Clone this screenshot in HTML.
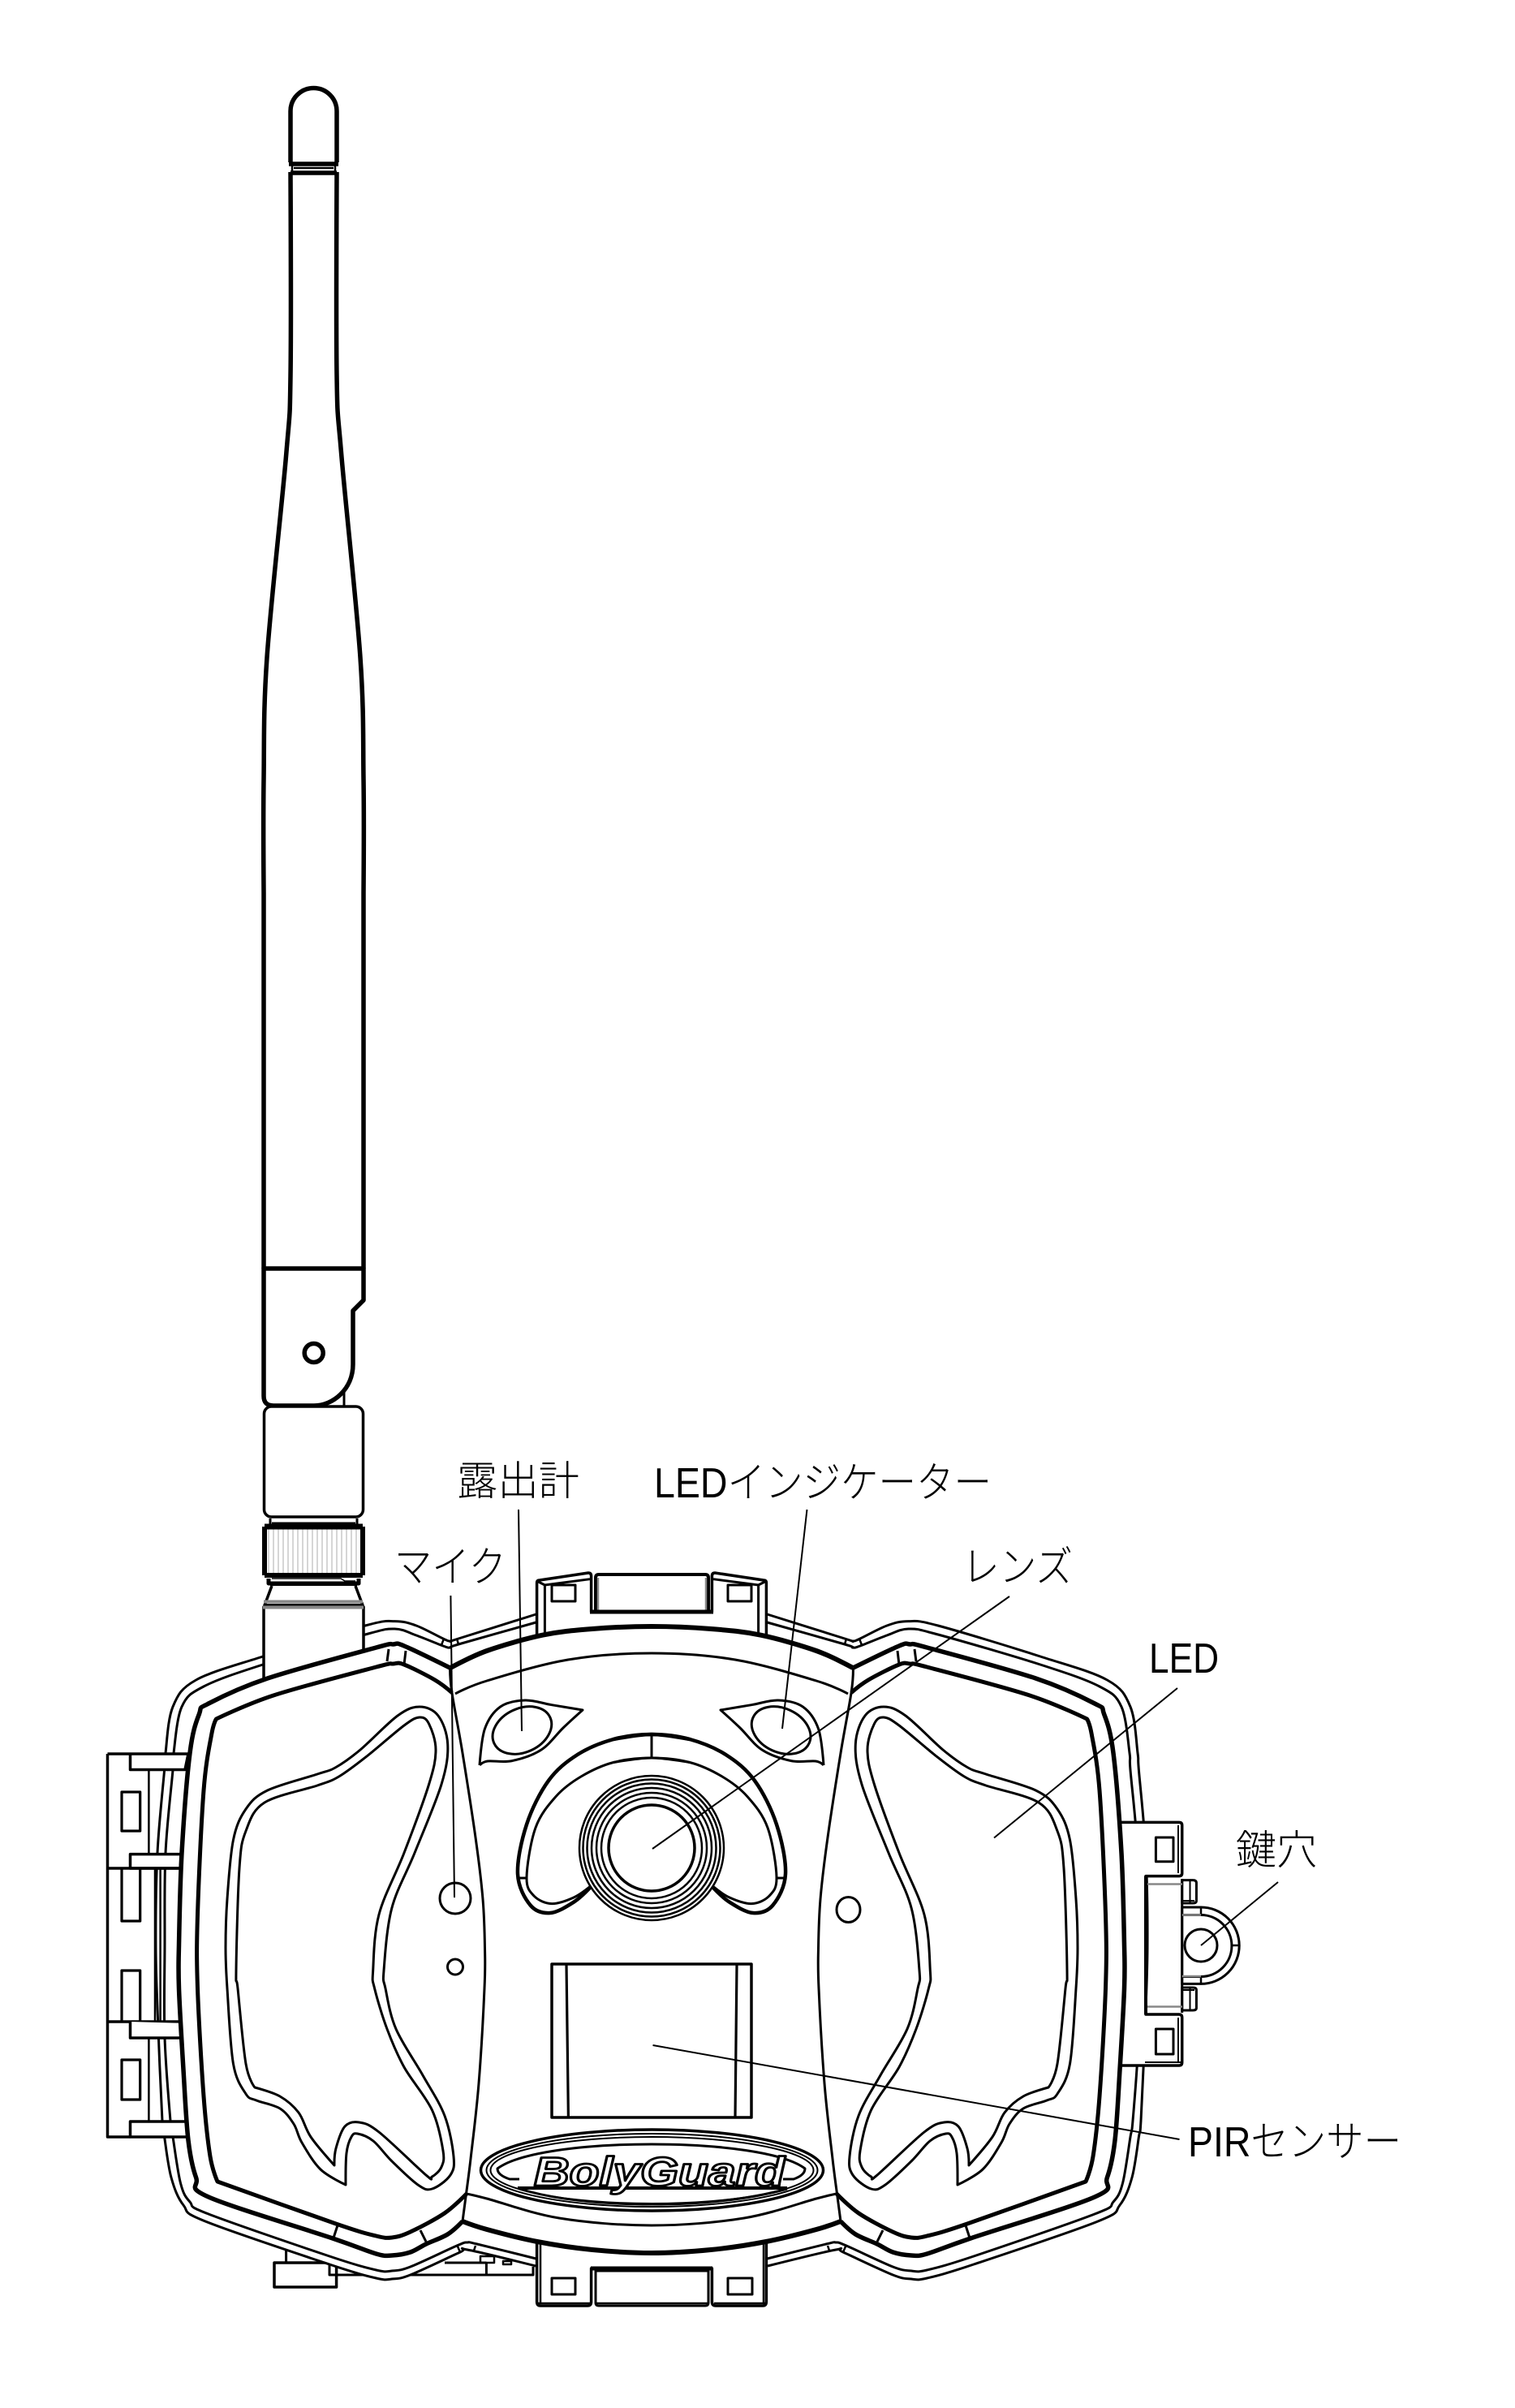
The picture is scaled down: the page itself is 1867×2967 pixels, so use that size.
<!DOCTYPE html>
<html><head><meta charset="utf-8"><style>
html,body{margin:0;padding:0;background:#fff}
svg{display:block}
.t{font-family:"Liberation Sans","Noto Sans CJK JP",sans-serif;font-weight:300;fill:#000}
</style></head><body>
<svg xmlns="http://www.w3.org/2000/svg" width="1867" height="2967" viewBox="0 0 1867 2967" fill="none" stroke="#000" stroke-width="3" stroke-linejoin="round" stroke-linecap="butt">
<defs>
<g id="hous">
<path class="s" fill="#fff" d="M660.6 1989 L565 2019 555 2022 546 2019 513 2003 486.5 1997.6 450 2003 324 2041 241.6 2070 213 2103 204 2160 202.6 2181 194 2283 192 2400 195 2500 200 2613 202.6 2633 211 2683 226 2717 253 2737 406 2790 463.6 2807 483 2808 505.7 2803 567 2775 576 2772 660 2792"/>
<path class="s" d="M660.6 1999 L565 2026 555 2030 546 2028 513 2015 486.5 2007 450 2014 324 2051 251 2078 224 2103 214 2160 213 2181 204 2283 203 2400 203 2511 210 2613 213 2633 222.5 2690 234 2713 257 2728 406 2780 463.6 2797 483 2798 505.7 2793 563 2767 576 2763 588 2765 660.6 2783"/>
<path d="M547 2019L544 2027M563 2019L565 2026M564 2768L567 2775M586 2767L584 2773" stroke-width="2.5"/>
</g>
<g id="rim">
<path class="s" fill="#fff" stroke-width="5.5" d="M554.6 2055 L498 2028 484.6 2026 463.6 2030 329.6 2068 257 2099 245.4 2112 234 2160 224 2283 220.5 2397 220.5 2450 226 2550 232 2637 241.6 2683 257 2707 410 2758 463.6 2777 483 2779 505.7 2775 525 2765 551.6 2753 570 2737"/>
<path class="s" stroke-width="5" d="M557 2085.6 L536 2070 498 2051 484.6 2050 463.6 2054 337 2089 266.5 2118 266.5 2118 260.7 2137 251 2206 243.5 2359 243.5 2450 251 2583 259 2657 268 2688 268 2688 414 2740 463.6 2755 483 2757 505.7 2750 547.8 2727 575 2703"/>
<path d="M479 2032L477 2047M500 2034L498 2051M415.7 2743L410.8 2758M518 2748L525 2762"/>
<path class="s" d="M554.6 2055 L557 2086 570 2160 586 2264 595 2340 597.5 2400 597 2450 590 2567 580 2660 574.5 2703 570 2737"/>
<path class="s" d="M517 2103 L540 2114 551.7 2149 544 2198.5 511 2283 482.7 2351.6 473 2428 475 2450 488 2500 521 2557 548 2607 559 2657 555 2680 532.5 2697 515 2692 483 2663 460 2638 440.6 2629 433 2633 427 2653 426 2692 426 2692 395 2673 372 2640 362 2617 345 2598 316 2588 303 2580 287.5 2543 280 2450 278 2400 280 2340 287.5 2267 303 2229 329.6 2206 391 2186 414 2177.5 444 2156 490 2114 517 2103"/>
<path class="s" d="M517 2116 L528.6 2124 537 2156 528.6 2198.5 498 2283 467 2359 459.7 2428 461.6 2450 477 2500 498 2547 532.5 2600 546 2650 544 2670 532.5 2682 525 2680 467 2627 442.5 2615 425 2620 414 2647 412 2668 412 2668 383 2633 368 2603 345 2583 314 2572 314 2572 303 2543 293 2450 291 2428 295 2302 303 2256 326 2221 391 2200 417.6 2189 452 2164 498 2126 517 2116"/>
<path class="s" d="M591 2175 L591 2175 597.5 2130 616.6 2103 647 2095 680 2100.7 718 2107 718 2107 694 2129 667 2156 631 2169.6 601 2170 591 2175"/>
<ellipse cx="643.4" cy="2132" rx="38" ry="27" transform="rotate(-25 643.4 2132)"/>
<path class="s" stroke-width="4.5" d="M850 2143 L803 2137 756 2143 711.6 2162 676 2194 649 2248 638 2309 653.6 2347.5 678 2357 707 2343.7 727 2326"/>
<path class="s" d="M850 2171.5 L803 2166 756 2171.5 716 2189 685 2213.6 660 2252 649 2313 658 2336 680 2345.6 707 2338 727 2324.6"/>
<path d="M640 2314H650"/>
</g>
</defs>

<!-- lower-left hidden parts -->
<rect x="338" y="2788" width="76.6" height="30" stroke-width="3.5"/>
<path d="M352.6 2772V2788M406 2790V2803H657V2793M599.4 2788V2803M548 2788H599.4" />
<path d="M592 2780H609V2788H592ZM620 2786H630V2790H620Z" stroke-width="2.5"/>

<!-- housing -->
<use href="#hous"/>
<use href="#hous" transform="matrix(-1 0 0 1 1606 0)"/>

<!-- antenna -->
<path d="M325 1980H448V2085H325Z" fill="#fff" stroke-width="3.5"/>
<path d="M335 1954L326 1978H447L438 1954" fill="#fff" stroke-width="3.5"/>
<path d="M325 1973.5H447M324 1980.5H448" stroke="#888" stroke-width="4"/>
<path d="M325 1977H447" stroke-width="2"/>
<path d="M424 1712V1735" stroke-width="3"/>
<path class="s" stroke-width="5.5" fill="#fff" d="M358 212 L358 463 352.7 560 329 810 325 960 325 1100"/>
<path class="s" stroke-width="5.5" fill="#fff" d="M415 212 L415 463 420.7 560 444 810 448 960 448 1100"/>
<path d="M358 213H415M325 1100V1563M448 1100V1563" stroke-width="5.5"/>
<path d="M358 200V137A28.5 28.5 0 0 1 415 137V200M356 202H417" stroke-width="5.5" fill="#fff"/>
<path d="M362 207H411M360 204V212M413 204V212" stroke-width="2.5"/>
<path d="M325 1563V1720Q325 1732 337 1732H387C410 1732 435 1712 435 1681V1615L448 1602V1563Z" fill="#fff" stroke-width="5.5"/>
<path d="M325 1563H448" stroke-width="5"/>
<circle cx="386.7" cy="1667" r="11.5" stroke-width="5.5"/>
<rect x="325.5" y="1733" width="122" height="136" rx="9" fill="#fff" stroke-width="3.5"/>
<path d="M335 1869H438M333 1871V1878M440 1871V1878M335 1877H438" stroke-width="3"/>
<path d="M327 1880H446V1944H327Z" fill="#fff" stroke-width="0"/>
<path d="M331 1884V1938M337 1884V1938M343 1884V1938M349 1884V1938M355 1884V1938M361 1884V1938M367 1884V1938M373 1884V1938M379 1884V1938M385 1884V1938M391 1884V1938M397 1884V1938M403 1884V1938M409 1884V1938M415 1884V1938M421 1884V1938M427 1884V1938M433 1884V1938M439 1884V1938" stroke="#bbb" stroke-width="1.2"/>
<path d="M326 1881H447" stroke-width="7"/>
<path d="M326 1941H447" stroke-width="6"/>
<path d="M326 1881V1941M447 1881V1941" stroke-width="6"/>
<path d="M331 1945V1951H442V1945" stroke-width="5"/>
<path d="M333 1952H440" stroke-width="4"/>
<path d="M335 1945H420L425 1948H438" stroke-width="1.5" stroke="#000"/>

<!-- top clip -->
<path d="M661.6 2022V1950Q661.6 1947 665 1947L725 1938Q728.6 1938 728.6 1942V1986H877.4V1942Q877.4 1938 881 1938L941 1947Q944.4 1947 944.4 1950V2022Z" fill="#fff" stroke-width="3.5"/>
<path d="M671.4 1953V2015M934.6 1953V2015M671.4 1953L727 1945.7M934.6 1953L879 1945.7M661.6 1948L671.4 1953M944.4 1948L934.6 1953"/>
<rect x="680" y="1953" width="29" height="20"/>
<rect x="897" y="1953" width="29" height="20"/>
<path d="M734 1986V1944Q734 1940 738 1940H869Q873 1940 873 1944V1986" fill="#fff" stroke-width="4"/>
<path d="M737 1944V1984M870 1944V1984" stroke="#888" stroke-width="2.5"/>
<path d="M727 1986H879" stroke-width="5"/>

<!-- bottom clip -->
<path d="M661.6 2745V2836Q661.6 2841 666 2841H724Q728.6 2841 728.6 2836V2795H877.4V2836Q877.4 2841 882 2841H940Q944.4 2841 944.4 2836V2745Z" fill="#fff" stroke-width="3.5"/>
<path d="M666 2745V2837M941 2745V2837M663 2838H727M880 2838H943" stroke-width="2.5"/>
<rect x="680" y="2807" width="29" height="20"/>
<rect x="897" y="2807" width="30" height="20"/>
<path d="M734 2798H873V2837Q873 2841 869 2841H738Q734 2841 734 2837Z" fill="#fff" stroke-width="3"/>
<path d="M735 2838H872" stroke-width="2.5"/>
<path d="M728 2795H878" stroke-width="5"/>

<!-- left clips -->
<rect x="132.5" y="2161" width="51" height="472" fill="#fff" stroke-width="0"/>
<path d="M183.4 2180V2284M183.4 2511V2614M197.6 2302V2491M191 2302V2491" stroke-width="2.5"/>
<path d="M132.5 2161V2633H160.5" stroke-width="3.5"/>
<path d="M132.5 2161H232L228 2180.5H160.5V2161" fill="#fff" stroke-width="3.5"/>
<path d="M160.5 2302V2284.6H224L222 2302Z" fill="#fff" stroke-width="3.5"/>
<path d="M132.5 2302H222.5M132.5 2491H222.5" stroke-width="3.5"/>
<path d="M160.5 2491V2511H224L222 2492.7" fill="#fff" stroke-width="3.5"/>
<path d="M160.5 2633V2614H232L234 2633Z" fill="#fff" stroke-width="3.5"/>
<rect x="150" y="2208" width="22.7" height="48" stroke-width="3.2"/>
<path d="M150 2302V2367H172.7V2302M150 2491V2428H172.7V2491" stroke-width="3.2"/>
<rect x="150" y="2538" width="22.7" height="49" stroke-width="3.2"/>

<!-- right lock -->
<path d="M1380 2245.4H1453Q1456.7 2245.4 1456.7 2249V2308Q1456.7 2311.6 1453 2311.6H1412V2482H1453Q1456.7 2482 1456.7 2486V2541Q1456.7 2545 1453 2545H1380Z" fill="#fff" stroke-width="3.5"/>
<path d="M1411 2541H1455M1452 2249V2308M1452 2486V2541" stroke-width="2"/>
<rect x="1424.4" y="2264" width="21.6" height="29.7" stroke-width="3"/>
<rect x="1424.4" y="2500" width="21.6" height="31" stroke-width="3"/>
<path d="M1456.7 2316.6H1470Q1474.4 2316.6 1474.4 2320V2342Q1474.4 2345 1470 2345H1456.7Z" fill="#fff"/>
<path d="M1456.7 2449H1470Q1474.4 2449 1474.4 2452V2474Q1474.4 2477 1470 2477H1456.7Z" fill="#fff"/>
<path d="M1466.5 2318V2344M1466.5 2450V2476" stroke-width="2"/>
<path d="M1456.7 2342H1472M1456.7 2452H1472" stroke-width="2"/>
<path d="M1456.7 2350H1480A47 47 0 0 1 1480 2444.4H1456.7Z" fill="#fff"/>
<path d="M1456.7 2359.5H1480A38 38 0 0 1 1480 2435.5H1456.7" />
<path d="M1480 2350V2359.5M1517.7 2397H1527.5M1480 2435.5V2444.4" stroke-width="2.5"/>
<circle cx="1480" cy="2397" r="20"/>
<path d="M1456.7 2315V2480" stroke-width="3"/>
<path d="M1414 2321.5H1457M1414 2472.5H1457M1456.7 2359.5H1480M1456.7 2435H1480" stroke="#888" stroke-width="2.5"/>
<path d="M1412 2311.6V2482" stroke-width="4"/>

<!-- center arcs fill and rim -->
<path class="s" fill="#fff" stroke-width="6" d="M555 2055 L600 2034 669 2014.6 730 2007 803 2004 876 2007 937 2014.6 1006 2034 1051 2055"/>
<path class="s" fill="#fff" stroke-width="6" d="M570 2737 L600 2747 662 2762 730 2772 803 2776 876 2772 944 2762 1006 2747 1036 2737"/>
<rect x="596" y="2050" width="414" height="690" fill="#fff" stroke="none"/>
<path class="s" d="M561 2087 L600 2071 700 2045 803 2037 906 2045 1006 2071 1045 2087"/>
<path class="s" d="M574.5 2703 L600 2709 689 2733 803 2742 917 2733 1006 2709 1031 2703"/>

<use href="#rim"/>
<use href="#rim" transform="matrix(-1 0 0 1 1606 0)"/>
<path d="M803 2137V2166"/>
<circle cx="561" cy="2339" r="19"/>
<circle cx="561" cy="2423.5" r="9.5"/>
<ellipse cx="1045.5" cy="2353" rx="14.5" ry="15.5"/>

<!-- lens -->
<circle cx="803" cy="2277" r="89" fill="#fff" stroke-width="2.5"/>
<circle cx="803" cy="2277" r="84.5" stroke-width="2.5"/>
<circle cx="803" cy="2277" r="79.5" stroke-width="2.5"/>
<circle cx="803" cy="2277" r="74" stroke-width="2.5"/>
<circle cx="803" cy="2277" r="68" stroke-width="2.5"/>
<circle cx="803" cy="2277" r="62" stroke-width="2.5"/>
<circle cx="803" cy="2277" r="53" stroke-width="3.5"/>

<!-- PIR -->
<path d="M680 2420H926V2609H680Z" stroke-width="3.5"/>
<path d="M698 2420L700.4 2609M908 2420L906 2609" stroke-width="3.2"/>

<!-- logo -->
<ellipse cx="803.5" cy="2674" rx="211" ry="50" fill="#fff" stroke-width="3.5"/>
<ellipse cx="803.5" cy="2674" rx="204" ry="45" stroke-width="2"/>
<ellipse cx="803.5" cy="2674" rx="199" ry="41" stroke-width="2"/>
<path d="M640 2685H628Q613 2680 613 2672C640 2652 720 2642 803 2642C886 2642 966 2652 992 2672Q992 2680 978 2685H965" stroke-width="3"/>
<path d="M638 2696H970" stroke-width="4"/>
<path d="M640 2697C690 2712 750 2716 803 2716C856 2716 916 2712 970 2697" stroke-width="3"/>
<text x="658" y="2693" textLength="309" lengthAdjust="spacingAndGlyphs" font-family="'Liberation Sans',sans-serif" font-style="italic" font-weight="bold" font-size="50" fill="#fff" stroke="#000" stroke-width="2.8">BolyGuard</text>

<!-- leaders -->
<g stroke-width="2">
<path d="M555.4 1966L560 2338"/>
<path d="M639 1860L643 2133"/>
<path d="M994.5 1860L964 2130"/>
<path d="M1244 1967L804 2278"/>
<path d="M1451 2080L1225 2264.5"/>
<path d="M1575 2319L1480 2397"/>
<path d="M804.5 2520L1453.5 2636"/>
</g>

<!-- labels -->
<g class="t" stroke="none" font-size="52">
<text class="t" x="563" y="1842" font-size="50" textLength="151" lengthAdjust="spacingAndGlyphs">露出計</text>
<text class="t" x="806" y="1845" textLength="416" lengthAdjust="spacingAndGlyphs">LEDインジケーター</text>
<text class="t" x="486" y="1949" textLength="138" lengthAdjust="spacingAndGlyphs">マイク</text>
<text class="t" x="1186" y="1949" textLength="136" lengthAdjust="spacingAndGlyphs">レンズ</text>
<text class="t" x="1416" y="2061" textLength="86" lengthAdjust="spacingAndGlyphs">LED</text>
<text class="t" x="1523" y="2297" font-size="50" textLength="100" lengthAdjust="spacingAndGlyphs">鍵穴</text>
<text class="t" x="1464" y="2657" textLength="263" lengthAdjust="spacingAndGlyphs">PIRセンサー</text>
</g>
</svg>
<script>
document.querySelectorAll('path.s').forEach(function(el){
  var n=el.getAttribute('d').match(/-?[\d.]+/g).map(Number),p=[];
  for(var i=0;i+1<n.length;i+=2)p.push([n[i],n[i+1]]);
  var closed=p[0][0]==p[p.length-1][0]&&p[0][1]==p[p.length-1][1],L=p.length;
  function g(i){if(closed){return p[((i%(L-1))+(L-1))%(L-1)];}return p[Math.max(0,Math.min(L-1,i))];}
  var d='M'+p[0][0]+' '+p[0][1];
  for(var i=0;i<L-1;i++){
    var a=g(i-1),b=g(i),c=g(i+1),e=g(i+2);
    if(b[0]==c[0]&&b[1]==c[1])continue;
    var s=(b[0]==a[0]&&b[1]==a[1])?0:1,t=(c[0]==e[0]&&c[1]==e[1])?0:1;
    d+=' C'+(b[0]+s*(c[0]-a[0])/6).toFixed(1)+' '+(b[1]+s*(c[1]-a[1])/6).toFixed(1)+' '+(c[0]-t*(e[0]-b[0])/6).toFixed(1)+' '+(c[1]-t*(e[1]-b[1])/6).toFixed(1)+' '+c[0]+' '+c[1];
  }
  el.setAttribute('d',d);
});
</script>
</body></html>
